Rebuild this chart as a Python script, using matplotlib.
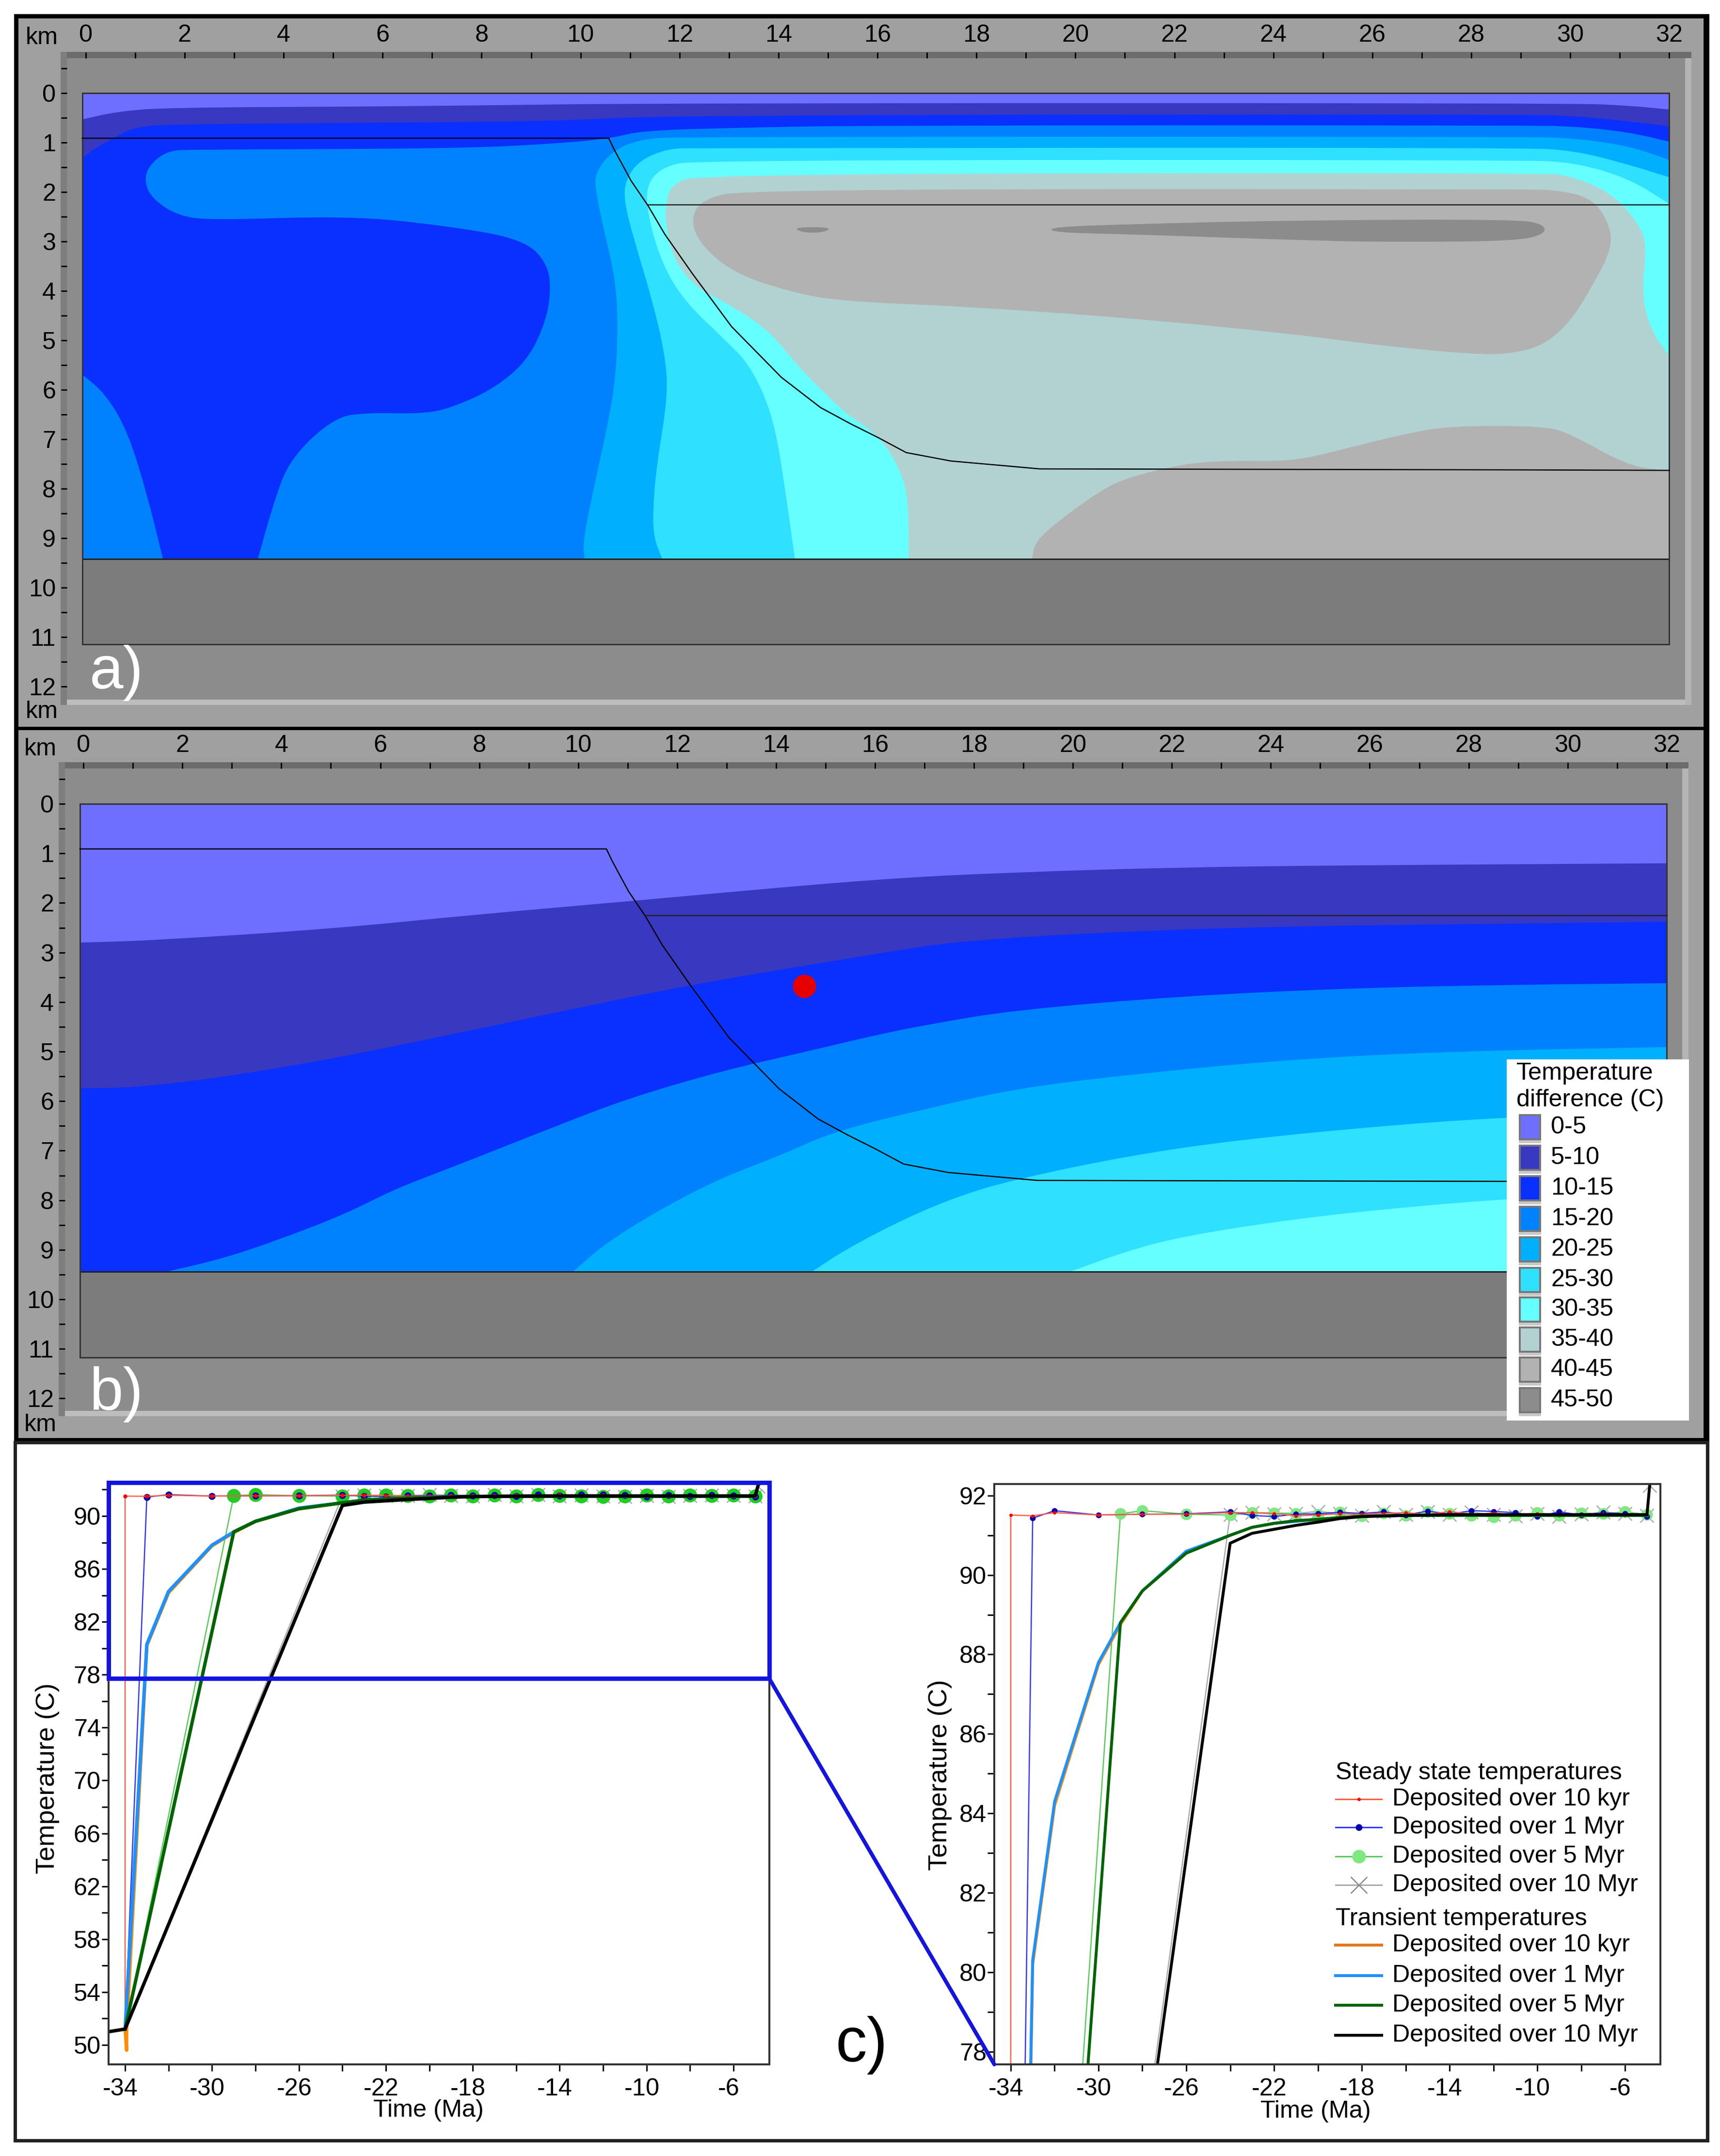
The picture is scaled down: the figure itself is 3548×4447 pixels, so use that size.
import matplotlib
matplotlib.use("Agg")
import matplotlib.pyplot as plt
from matplotlib.lines import Line2D
from matplotlib.patches import ConnectionPatch, PathPatch, Rectangle
from matplotlib.path import Path
from matplotlib.ticker import MultipleLocator
from matplotlib.transforms import ScaledTranslation

plt.rcParams['font.family'] = ['Liberation Sans', 'DejaVu Sans']
plt.rcParams['font.size'] = 12.1
plt.rcParams['axes.unicode_minus'] = False

WIDTH, HEIGHT = 3548, 4447
DPI = 300
PX = 72 / DPI  # one output pixel in points

band_labels = ['0-5', '5-10', '10-15', '15-20', '20-25', '25-30', '30-35', '35-40', '40-45', '45-50']
band_colors = ['#6f6fff', '#3838c0', '#0a30ff', '#0082ff', '#00b0ff', '#30e0ff', '#66ffff', '#b2d2d2', '#b2b2b2', '#8c8c8c']
basement_color = '#7c7c7c'

# basin geometry, km
fault_x = [-0.07, 10.57, 10.69, 11.02, 11.36, 11.7, 12.26, 13.05, 14.06, 14.85, 15.46, 16.02, 16.58, 17.48, 19.28, 28.95, 32]
fault_y = [0.91, 0.91, 1.16, 1.77, 2.27, 2.85, 3.65, 4.72, 5.75, 6.36, 6.69, 6.97, 7.27, 7.44, 7.6, 7.62, 7.63]
layer_x = [11.36, 32]
layer_y = [2.25, 2.25]

# panel a contours, (km, km), nested from cold to hot
a_t5 = [(-.07, .53), (.63, .37), (1.64, .29), (5.6, .27), (7.6, .25), (11.8, .2), (30, .2), (31.2, .25), (32, .33), (32, 9.42), (-.07, 9.42)]
a_t10 = [(-.07, 1.31), (.18, 1.12), (.52, .93), (.97, .69), (1.64, .63), (5, .6), (9.5, .57), (11.8, .44), (29, .43), (30.1, .46), (31.2, .57), (32, .67), (32, 9.42), (-.07, 9.42)]
a_t15 = [(32, .98), (31.2, .79), (30.1, .67), (29, .65), (15.9, .65), (13, .7), (11.2, .76), (10.64, .91), (9.52, 1.02), (7.49, 1.12), (2.2, 1.14), (1.64, 1.16), (1.25, 1.49), (1.19, 1.82), (1.36, 2.15), (1.87, 2.48), (2.54, 2.57), (5.35, 2.48), (7.27, 2.68), (8.84, 2.95), (9.35, 3.46), (9.4, 4.12), (9.24, 4.77), (8.9, 5.43), (8.28, 5.95), (7.6, 6.28), (6.93, 6.49), (5.69, 6.46), (5.02, 6.56), (4.12, 7.4), (3.78, 8.34), (3.48, 9.42), (32, 9.42)]
a_t15_low = [(-.07, 5.69), (.4, 6.08), (.85, 6.84), (1.25, 8.15), (1.56, 9.42), (-.07, 9.42)]
a_t20 = [(32, 1.35), (31.2, 1.07), (30.1, .91), (29, .88), (12, .88), (11.2, .93), (10.64, 1.17), (10.3, 1.6), (10.3, 1.96), (10.48, 2.8), (10.7, 3.74), (10.76, 4.68), (10.7, 5.9), (10.48, 7.03), (10.19, 8.34), (10.05, 9.1), (10.08, 9.42), (32, 9.42)]
a_t25 = [(32, 1.7), (31.2, 1.45), (30.1, 1.16), (29, 1.1), (12.3, 1.11), (11.77, 1.12), (11.2, 1.35), (10.92, 1.73), (10.87, 2.15), (11.09, 3), (11.43, 4.12), (11.7, 5.24), (11.77, 6.1), (11.54, 7.5), (11.46, 8.43), (11.48, 9), (11.65, 9.42), (32, 9.42)]
a_t30 = [(32, 2.24), (31.2, 1.73), (30.1, 1.4), (29, 1.35), (12.33, 1.35), (11.65, 1.49), (11.32, 1.87), (11.37, 2.53), (11.65, 3.46), (12.1, 4.21), (12.89, 4.96), (13.45, 5.53), (13.9, 6.56), (14.13, 7.97), (14.33, 9.42), (32, 9.42)]
a_t35 = [(29.47, 1.61), (30.03, 1.68), (30.82, 2.01), (31.38, 2.62), (31.55, 3.09), (31.44, 4.02), (31.61, 4.77), (32, 5.32), (32, 9.42), (16.63, 9.42), (16.63, 8.43), (16.54, 7.78), (16.09, 6.98), (15.41, 6.51), (15.25, 6.37), (14.47, 5.62), (13.79, 4.77), (12.89, 4.21), (12.33, 3.93), (11.88, 3.37), (11.71, 2.62), (11.73, 2.24), (11.82, 1.87), (12.33, 1.63)]
a_t40_up = [(13.34, 1.94), (12.44, 2.15), (12.22, 2.57), (12.44, 3.09), (13.12, 3.65), (14.24, 4.02), (15.25, 4.21), (17.66, 4.31), (21.03, 4.54), (24.41, 4.87), (26.1, 5.1), (28.12, 5.29), (28.8, 5.27), (29.47, 5.1), (30.03, 4.59), (30.48, 3.84), (30.82, 3.18), (30.82, 2.71), (30.48, 2.15), (29.81, 1.96), (28.9, 1.94)]
a_t40_low = [(19.12, 9.42), (19.18, 9.09), (19.57, 8.72), (20.47, 8.06), (21.03, 7.78), (22.16, 7.5), (23.06, 7.43), (24.41, 7.45), (25.53, 7.17), (26.66, 6.89), (27.56, 6.73), (29.47, 6.73), (30.03, 6.9), (31.16, 7.54), (32, 7.64), (32, 9.42)]
a_t45_small = [(14.3, 2.71), (15.08, 2.71), (14.92, 2.82), (14.47, 2.82)]
a_t45_long = [(19.46, 2.71), (21.03, 2.65), (24.41, 2.57), (28.9, 2.55), (29.47, 2.65), (29.49, 2.85), (28.9, 2.99), (26.66, 3.01), (24.97, 2.99), (21.03, 2.85), (19.57, 2.82)]

# panel b contours
b_t5 = [(-.07, 2.8), (1.35, 2.76), (5.06, 2.52), (7.87, 2.24), (11.1, 1.96), (15.95, 1.52), (18.83, 1.38), (22.2, 1.28), (25.58, 1.24), (32, 1.2), (32, 9.44), (-.07, 9.44)]
b_t10 = [(-.07, 5.74), (1.01, 5.73), (2.81, 5.52), (5.06, 5.14), (7.31, 4.68), (9.56, 4.21), (12.26, 3.65), (15.95, 3.04), (17.7, 2.76), (21.08, 2.57), (24.45, 2.47), (27.83, 2.43), (32, 2.38), (32, 9.44), (-.07, 9.44)]
b_t15 = [(1.69, 9.44), (2.81, 9.18), (3.94, 8.8), (5.29, 8.28), (6.3, 7.77), (7.31, 7.39), (9.56, 6.5), (11.02, 5.94), (12.94, 5.38), (14.62, 5), (15.95, 4.68), (17.14, 4.44), (18.83, 4.16), (22.2, 3.88), (25.58, 3.72), (28.95, 3.65), (32, 3.62), (32, 9.44)]
b_t20 = [(9.9, 9.44), (10.57, 8.85), (11.81, 8.1), (12.94, 7.53), (14.06, 7.11), (15.19, 6.6), (17.14, 6.13), (18.83, 5.75), (21.08, 5.47), (24.45, 5.15), (27.83, 4.99), (32, 4.91), (32, 9.44)]
b_t25 = [(14.73, 9.44), (15.41, 8.99), (16.58, 8.38), (17.7, 7.91), (18.83, 7.58), (21.08, 7.11), (23.33, 6.78), (26.7, 6.46), (28.95, 6.32), (32, 6.18), (32, 9.44)]
b_t30 = [(19.95, 9.44), (21.08, 9.03), (22.2, 8.73), (24.45, 8.38), (26.7, 8.14), (28.95, 7.96), (32, 7.82), (32, 9.44)]
sample_point = (14.57, 3.68)

# panel c, temperatures against time
late_times = [-24, -23, -22, -21, -20, -19, -18, -17, -16, -15, -14, -13, -12, -11, -10, -9, -8, -7, -6, -5]
ss_10kyr_t = [-34, -34, -33, -32, -30, -28, -26] + late_times
ss_10kyr_T = [51.2, 91.51, 91.49, 91.57, 91.51, 91.53, 91.53, 91.57, 91.57, 91.55, 91.49, 91.51, 91.54, 91.53, 91.55, 91.57, 91.52, 91.6, 91.53, 91.56, 91.52, 91.54, 91.5, 91.5, 91.53, 91.5, 91.5]
ss_1myr_t = [-34, -33, -32, -30, -28, -26] + late_times
ss_1myr_T = [51.2, 91.43, 91.62, 91.51, 91.53, 91.54, 91.59, 91.5, 91.47, 91.53, 91.54, 91.58, 91.55, 91.59, 91.51, 91.61, 91.53, 91.62, 91.6, 91.57, 91.47, 91.59, 91.51, 91.57, 91.54, 91.47]
ss_5myr_t = [-34, -29, -28, -26] + late_times
ss_5myr_T = [51.2, 91.54, 91.62, 91.53, 91.51, 91.57, 91.56, 91.55, 91.52, 91.58, 91.49, 91.56, 91.5, 91.6, 91.55, 91.5, 91.46, 91.5, 91.57, 91.5, 91.56, 91.54, 91.59, 91.52]
ss_10myr_t = [-34] + late_times + [-4.87]
ss_10myr_T = [51.2, 91.52, 91.57, 91.53, 91.55, 91.6, 91.55, 91.5, 91.6, 91.52, 91.6, 91.52, 91.58, 91.52, 91.48, 91.55, 91.47, 91.53, 91.58, 91.55, 91.5, 92.25]
tr_10kyr_t = [-34.76, -34, -33.93, -33.93, -33, -32, -30, -29, -28, -26, -24, -23, -22, -20, -18, -16, -5]
tr_10kyr_T = [51, 51.2, 49.6, 51.2, 80.2, 84.2, 87.75, 88.75, 89.6, 90.55, 91, 91.2, 91.3, 91.4, 91.48, 91.5, 91.5]
tr_1myr_t = [-34, -33, -32, -30, -29, -28, -26, -24, -23, -22, -20, -18, -16, -5]
tr_1myr_T = [51.2, 80.3, 84.3, 87.8, 88.8, 89.6, 90.6, 91, 91.2, 91.3, 91.4, 91.48, 91.5, 91.5]
tr_5myr_t = [-34, -29, -28, -26, -24, -23, -22, -21, -20, -19, -18, -16, -5]
tr_5myr_T = [51.2, 88.8, 89.6, 90.55, 91, 91.2, 91.3, 91.37, 91.4, 91.45, 91.48, 91.5, 91.5]
tr_10myr_t = [-34.76, -34, -24, -23, -22, -21, -20, -19, -18, -16, -14, -5, -4.87]
tr_10myr_T = [51, 51.2, 90.8, 91.05, 91.15, 91.25, 91.33, 91.42, 91.47, 91.5, 91.52, 91.52, 92.3]

fig = plt.figure(figsize=(WIDTH / DPI, HEIGHT / DPI), dpi=DPI, facecolor='white')


def add_px_axes(x0, y0, x1, y1, **kwargs):
    return fig.add_axes([x0 / WIDTH, 1 - y1 / HEIGHT, (x1 - x0) / WIDTH, (y1 - y0) / HEIGHT], **kwargs)


# page furniture in pixel coordinates
back = add_px_axes(0, 0, WIDTH, HEIGHT, zorder=0)
back.set_xlim(0, WIDTH)
back.set_ylim(HEIGHT, 0)
back.axis('off')
front = add_px_axes(0, 0, WIDTH, HEIGHT, zorder=10, facecolor='none')
front.set_xlim(0, WIDTH)
front.set_ylim(HEIGHT, 0)
front.axis('off')


def box(x0, y0, x1, y1, color, **kwargs):
    back.add_patch(Rectangle((x0, y0), x1 - x0, y1 - y0, facecolor=color, edgecolor='none', **kwargs))


box(29, 29, 3526, 2975, 'black')
box(38, 38, 3514, 1499, '#a0a0a0')
box(38, 1506, 3514, 2966, '#a0a0a0')
back.add_patch(Rectangle((31, 2975), 3491, 1440, facecolor='white', edgecolor='#222222', linewidth=7 * PX))


def section_axes(x0, y0, x1, y1, tick0_x, tick0_y, km_x, km_y):
    # strips round the plot area, dark top left, light bottom right
    s = 13
    box(x0, y1, x1 + s, y1 + s - 2, '#bdbdbd')
    box(x1, y0 - s, x1 + s, y1 + s - 2, '#b4b4b4')
    box(x0 - s, y0 - s, x1 + s, y0, '#6c6c6c')
    box(x0 - s, y0 - s, x0, y1 + s - 2, '#7e7e7e')
    ax = add_px_axes(x0, y0, x1, y1, zorder=2, facecolor='#8c8c8c')
    ax.set_xlim((x0 - tick0_x) / km_x, (x1 - tick0_x) / km_x)
    ax.set_ylim((y1 - tick0_y) / km_y, (y0 - tick0_y) / km_y)
    for spine in ax.spines.values():
        spine.set_visible(False)
    ax.xaxis.tick_top()
    ax.set_xticks(range(0, 33, 2))
    ax.set_yticks(range(0, 13))
    ax.xaxis.set_minor_locator(MultipleLocator(1))
    ax.yaxis.set_minor_locator(MultipleLocator(0.5))
    ax.tick_params(which='both', direction='out', length=12 * PX, width=3 * PX, color='black')
    ax.tick_params(axis='x', which='major', pad=12 * PX)
    ax.tick_params(axis='y', which='major', pad=11 * PX)
    return ax


def rounded_outline(points):
    # quadratic curves between read points, box corners and edge points stay sharp
    def fixed(p):
        return p[0] <= -0.07 or p[0] >= 32 or p[1] >= 9.4

    def mid(p, q):
        return ((p[0] + q[0]) / 2, (p[1] + q[1]) / 2)

    verts, codes = [], []
    n = len(points)
    for i, p in enumerate(points):
        before, after = points[i - 1], points[(i + 1) % n]
        if fixed(p):
            verts.append(p)
            codes.append(Path.LINETO)
        else:
            verts += [mid(before, p), p, mid(p, after)]
            codes += [Path.LINETO, Path.CURVE3, Path.CURVE3]
    codes[0] = Path.MOVETO
    verts.append(verts[0])
    codes.append(Path.CLOSEPOLY)
    return Path(verts, codes)


def fill_bands(ax, bands):
    for points, color in bands:
        ax.add_patch(PathPatch(rounded_outline(points), facecolor=color, edgecolor='none', zorder=2))


def finish_section(ax, basin_top, basin_bottom):
    ax.add_patch(Rectangle((-0.07, basin_top), 32.07, basin_bottom - basin_top, facecolor=basement_color, edgecolor='none', zorder=3))
    ax.plot([-0.07, 32], [basin_top, basin_top], color='#222222', lw=3 * PX, zorder=4)
    ax.plot([-0.07, 32], [basin_bottom, basin_bottom], color='#222222', lw=3 * PX, zorder=4)
    ax.add_patch(Rectangle((-0.07, 0), 32.07, basin_bottom, facecolor='none', edgecolor='#333333', linewidth=3 * PX, zorder=5))
    ax.plot(fault_x, fault_y, color='black', lw=2.5 * PX, zorder=6)
    ax.plot(layer_x, layer_y, color='#222222', lw=2.5 * PX, zorder=6)


# panel a
ax_a = section_axes(138, 120, 3476, 1443, 176.8, 192.3, 102.08, 101.95)
ax_a.add_patch(Rectangle((-0.07, 0), 32.07, 9.42, facecolor=band_colors[0], edgecolor='none', zorder=1))
fill_bands(ax_a, [(a_t5, band_colors[1]), (a_t10, band_colors[2]), (a_t15, band_colors[3]), (a_t15_low, band_colors[3]),
                  (a_t20, band_colors[4]), (a_t25, band_colors[5]), (a_t30, band_colors[6]), (a_t35, band_colors[7]),
                  (a_t40_up, band_colors[8]), (a_t40_low, band_colors[8]), (a_t45_small, band_colors[9]), (a_t45_long, band_colors[9])])
finish_section(ax_a, 9.42, 11.15)

# panel b
ax_b = section_axes(134, 1585, 3470, 2910, 172.2, 1658, 102.05, 102.2)
ax_b.add_patch(Rectangle((-0.07, 0), 32.07, 9.44, facecolor=band_colors[0], edgecolor='none', zorder=1))
fill_bands(ax_b, [(b_t5, band_colors[1]), (b_t10, band_colors[2]), (b_t15, band_colors[3]), (b_t20, band_colors[4]),
                  (b_t25, band_colors[5]), (b_t30, band_colors[6])])
finish_section(ax_b, 9.44, 11.17)
ax_b.plot(*sample_point, 'o', color='#e60000', ms=48 * PX, mew=0, zorder=7)

front.text(86, 78, 'km', ha='center', va='center')
front.text(86, 1468, 'km', ha='center', va='center')
front.text(83, 1545, 'km', ha='center', va='center')
front.text(83, 2939, 'km', ha='center', va='center')
front.text(240, 1420, 'a)', color='white', fontsize=30, ha='center', va='baseline')
front.text(241, 2908, 'b)', color='white', fontsize=30, ha='center', va='baseline')
front.text(1777, 4252, 'c)', color='black', fontsize=31, ha='center', va='baseline')

# colour key of panel b
front.add_patch(Rectangle((3108, 2185), 376, 745, facecolor='white', edgecolor='none'))
front.text(3128, 1480 + 767 / 1.0453, 'Temperature', ha='left', va='center')
front.text(3128, 1480 + 825 / 1.0453, 'difference (C)', ha='left', va='center')
key_rows = [883, 949, 1015, 1081, 1147, 1213, 1276, 1341, 1406, 1472]
for row, label, color in zip(key_rows, band_labels, band_colors):
    yc = 1480 + row / 1.0453
    front.add_patch(Rectangle((3133, yc - 27), 46, 60, facecolor='#c8c8c8', edgecolor='none'))
    front.add_patch(Rectangle((3135, yc - 25), 42, 50, facecolor=color, edgecolor='#777777', linewidth=4 * PX))
    front.text(3199, yc, label, ha='left', va='center')


def curves_axes(x0, y0, x1, y1, xlim, ylim):
    ax = add_px_axes(x0, y0, x1, y1, zorder=3, facecolor='white')
    ax.set_xlim(*xlim)
    ax.set_ylim(*ylim)
    for spine in ax.spines.values():
        spine.set_color('#333333')
        spine.set_linewidth(4 * PX)
    ax.set_xticks(range(-34, -4, 4))
    ax.xaxis.set_minor_locator(MultipleLocator(2))
    ax.tick_params(axis='x', which='both', direction='out', length=14 * PX, width=3 * PX, pad=14 * PX)
    ax.tick_params(axis='y', which='both', direction='out', length=14 * PX, width=3 * PX, pad=2 * PX)
    for label in ax.get_xticklabels():
        label.set_transform(label.get_transform() + ScaledTranslation(-10 / DPI, 0, fig.dpi_scale_trans))
    ax.set_xlabel('Time (Ma)', va='center')
    ax.set_ylabel('Temperature (C)', va='center', fontsize=13)
    return ax


def draw_curves(ax, green, heavy, dot_scale):
    ax.plot(ss_10myr_t, ss_10myr_T, color='#aaaaaa', lw=2.5 * PX, marker='x', ms=28 * PX, mew=2.5 * PX, markevery=slice(1, None))
    ax.plot(ss_5myr_t, ss_5myr_T, color='#55cc55', lw=2.5 * PX, marker='o', ms=24 * dot_scale * PX, mew=0, mfc=green, markevery=slice(1, None))
    ax.plot(ss_1myr_t, ss_1myr_T, color='#3333ff', lw=2.5 * PX, marker='o', ms=12 * dot_scale * PX, mew=0, mfc='#0000b0', markevery=slice(1, None))
    ax.plot(ss_10kyr_t, ss_10kyr_T, color='#ff6040', lw=2.5 * PX, marker='o', ms=7 * dot_scale * PX, mew=0, mfc='#ff0000', markevery=slice(1, None))
    ax.plot(tr_10kyr_t, tr_10kyr_T, color='#ff8c00', lw=heavy * PX)
    ax.plot(tr_1myr_t, tr_1myr_T, color='#1e90ff', lw=heavy * PX)
    ax.plot(tr_5myr_t, tr_5myr_T, color='#006400', lw=heavy * PX)
    ax.plot(tr_10myr_t, tr_10myr_T, color='black', lw=heavy * PX)


# panel c, full curve
ax_left = curves_axes(224, 3058, 1587, 4258, (-34.76, -4.35), (48.53, 92.53))
ax_left.set_yticks(range(50, 92, 4))
ax_left.yaxis.set_minor_locator(MultipleLocator(2))
ax_left.xaxis.set_label_coords((884 - 224) / 1363, -(4353 - 4258) / 1200)
ax_left.yaxis.set_label_coords((98 - 224) / 1363, 1 - (3668 - 3058) / 1200)
draw_curves(ax_left, '#22cc22', 7, 1.2)

# panel c, close-up
ax_right = curves_axes(2051, 3061, 3425, 4258, (-34.75, -4.39), (77.68, 92.29))
ax_right.set_yticks(range(78, 93, 2))
ax_right.yaxis.set_minor_locator(MultipleLocator(1))
ax_right.xaxis.set_label_coords((2714 - 2051) / 1374, -(4355 - 4258) / 1197)
ax_right.yaxis.set_label_coords((1939 - 2051) / 1374, 1 - (3661 - 3061) / 1197)
draw_curves(ax_right, '#80e880', 6, 1)

# zoom frame and its connectors
zoom_blue = '#1414e0'
ax_left.add_patch(Rectangle((-34.76, 77.7), 30.41, 14.83, facecolor='none', edgecolor=zoom_blue, linewidth=9 * PX, clip_on=False, zorder=8))
for y_left, y_right in [(92.53, 92.32), (77.7, 77.68)]:
    fig.add_artist(ConnectionPatch((-4.35, y_left), (-34.75, y_right), 'data', 'data', axesA=ax_left, axesB=ax_right,
                                   color=zoom_blue, linewidth=8 * PX, zorder=4))

# curve key, written by hand so the two groups keep their headings
steady_keys = [('#ff6040', 'o', 7, '#ff0000', 781), ('#3333ff', 'o', 14, '#0000b0', 843),
               ('#55cc55', 'o', 28, '#80e880', 907), ('#aaaaaa', 'x', 34, '#888888', 971)]
transient_keys = [('#e07820', 1103), ('#1e90ff', 1170), ('#006400', 1235), ('black', 1302)]
key_labels = ['Deposited over 10 kyr', 'Deposited over 1 Myr', 'Deposited over 5 Myr', 'Deposited over 10 Myr']


def key_y(row):
    return 2980 + row / 1.0688


def key_x(col):
    return 1750 + col / 0.871


front.text(key_x(875), key_y(724), 'Steady state temperatures', ha='left', va='center')
front.text(key_x(875), key_y(1045), 'Transient temperatures', ha='left', va='center')
for (line_color, marker, size, face, row), label in zip(steady_keys, key_labels):
    front.add_line(Line2D([key_x(875), key_x(958)], [key_y(row)] * 2, color=line_color, lw=3 * PX))
    front.add_line(Line2D([key_x(917)], [key_y(row)], marker=marker, ms=size * PX, mfc=face, mec=face, mew=2.5 * PX if marker == 'x' else 0, ls='none'))
    front.text(key_x(977), key_y(row), label, ha='left', va='center')
for (line_color, row), label in zip(transient_keys, key_labels):
    front.add_line(Line2D([key_x(875), key_x(958)], [key_y(row)] * 2, color=line_color, lw=6 * PX))
    front.text(key_x(977), key_y(row), label, ha='left', va='center')

fig.savefig('out.png', dpi=DPI, facecolor='white')
